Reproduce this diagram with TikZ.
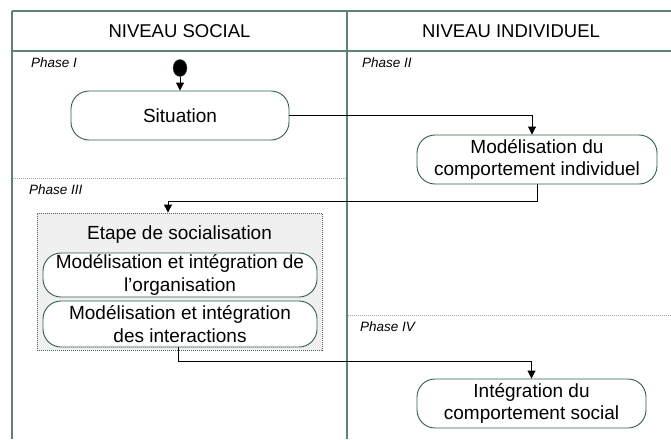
\documentclass[tikz,border=0pt]{standalone}
\usepackage{fontspec}
\setmainfont{Liberation Sans}
\usetikzlibrary{arrows.meta,shapes.geometric}
\definecolor{lane}{HTML}{5E8470}
\definecolor{boxline}{HTML}{2F5F40}
\definecolor{sepdot}{HTML}{9AAEA2}
\definecolor{grayfill}{HTML}{F0F0F0}
\tikzset{
  lanestyle/.style={draw=lane, line width=1.4pt},
  sepstyle/.style={draw=sepdot, line width=0.8pt, dash pattern=on 1pt off 1pt},
  activity/.style={draw=boxline, line width=0.9pt, fill=white, rounded corners=18pt,
    align=center, inner sep=0pt, font=\fontsize{19}{22.5}\selectfont},
  container/.style={draw=boxline!70!gray, line width=0.8pt, dash pattern=on 1pt off 1pt,
    fill=grayfill, inner sep=0pt},
  phaselabel/.style={anchor=west, inner sep=0pt, font=\itshape\fontsize{13.5}{16}\selectfont},
  header/.style={inner sep=0pt, font=\fontsize{18.5}{22}\selectfont},
  flow/.style={draw=black, line width=0.9pt, -{Triangle[length=8pt,width=8pt]}}
}
\begin{document}
\begin{tikzpicture}[x=1pt,y=-1pt]
\useasboundingbox (0,0) rectangle (671,439);
% swimlane frame
\draw[lanestyle] (12,11) -- (671,11);
\draw[lanestyle] (12,51) -- (671,51);
\draw[lanestyle] (12,11) -- (12,439);
\draw[lanestyle] (347,11) -- (347,439);
% phase separators
\draw[sepstyle] (13,178) -- (346,178);
\draw[sepstyle] (348,315) -- (671,315);
% headers
\node[header] (hsoc) at (179.5,31) {NIVEAU SOCIAL};
\node[header] (hind) at (511,31) {NIVEAU INDIVIDUEL};
% phase labels
\node[phaselabel] (p1) at (31,63) {Phase I};
\node[phaselabel] (p2) at (362,63) {Phase II};
\node[phaselabel] (p3) at (29,190) {Phase III};
\node[phaselabel] (p4) at (360,327) {Phase IV};
% start
\node[ellipse, fill=black, draw=boxline, minimum width=14pt, minimum height=17pt, inner sep=0pt] (start) at (180,68) {};
% activities
\node[activity, minimum width=218pt, minimum height=49pt] (sit) at (180,115.5) {Situation};
\node[activity, minimum width=240pt, minimum height=49pt] (mci) at (537,159.5) {Modélisation du\\comportement individuel};
\node[container, minimum width=285pt, minimum height=137pt] (soc) at (179.5,281.5) {};
\node[header, font=\fontsize{19}{22.5}\selectfont] (etape) at (179.5,235) {Etape de socialisation};
\node[activity, minimum width=274pt, minimum height=44pt] (org) at (180,275) {Modélisation et intégration de\\l’organisation};
\node[activity, minimum width=274pt, minimum height=46pt] (inter) at (180,324) {Modélisation et intégration\\des interactions};
\node[activity, minimum width=229pt, minimum height=49pt] (ics) at (531.5,403.5) {Intégration du\\comportement social};
% connectors
\draw[flow] (start) -- (sit.north);
\draw[flow] (sit.east) -| ([xshift=-5pt]mci.north);
\draw[flow] (mci.south) -- ++(0,16.5) -| ([xshift=-11.5pt]soc.north);
\draw[flow] ([xshift=-2pt]inter.south) -- ++(0,14) -| (ics.north);
\end{tikzpicture}
\end{document}
